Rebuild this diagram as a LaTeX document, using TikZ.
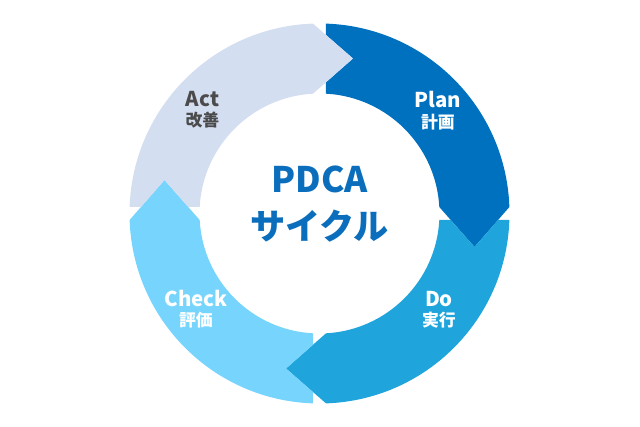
\documentclass[tikz,border=0pt]{standalone}
\usepackage{fontspec}
\setmainfont{Noto Sans CJK JP}
\usetikzlibrary{positioning}
\definecolor{plancol}{HTML}{0071BF}
\definecolor{docol}{HTML}{1FA5DC}
\definecolor{checkcol}{HTML}{76D4FD}
\definecolor{actcol}{HTML}{D4DEF1}
\definecolor{titlecol}{HTML}{0B6EBC}
\definecolor{actgray}{HTML}{4B4B4B}

\begin{document}
\begin{tikzpicture}[x=0.025cm, y=0.025cm,
  entext/.style={font=\fontsize{14.5}{16}\selectfont\bfseries, anchor=base, inner sep=0pt},
  jatext/.style={font=\fontsize{12}{14}\selectfont\bfseries, anchor=base, inner sep=0pt},
  titletext/.style={font=\fontsize{25}{28}\selectfont\bfseries, text=titlecol, anchor=base, inner sep=0pt},
]
\useasboundingbox (-319.5,-213.5) rectangle (320.5,213.5);
% ring: outer 190, inner 120; each piece cut 6.5 off the axis,
% head 40 long, notch at the start takes the head of the one before
\foreach \rot/\col in {0/plancol, -90/docol, -180/checkcol, -270/actcol} {
  \begin{scope}[rotate=\rot]
  \fill[\col] (6.5,189.89)
    arc[start angle={90-asin(6.5/190)}, end angle={asin(6.5/190)}, radius=190]
    -- (155,-33.5) -- (119.82,6.5)
    arc[start angle={asin(6.5/120)}, end angle={90-asin(6.5/120)}, radius=120]
    -- (6.5,131.25) -- (33.5,155) -- (6.5,178.55) -- cycle;
  \end{scope}
}
% centre title
\node[titletext] (pdca) at (0,20.5) {PDCA};
\node[titletext] (cycle) at (0,-26.5) {サイクル};
% labels on the ring
\node[entext, text=white] (plan) at (118.5,105.5) {Plan};
\node[jatext, text=white] (planja) at (118.5,84.5) {計画};
\node[entext, text=white] (do) at (119.5,-93.5) {Do};
\node[jatext, text=white] (doja) at (119.5,-113.5) {実行};
\node[entext, text=white] (check) at (-123.5,-93.5) {Check};
\node[jatext, text=white] (checkja) at (-123.5,-113.5) {評価};
\node[entext, text=actgray] (act) at (-117,106.5) {Act};
\node[jatext, text=actgray] (actja) at (-117,86.5) {改善};
\end{tikzpicture}
\end{document}
